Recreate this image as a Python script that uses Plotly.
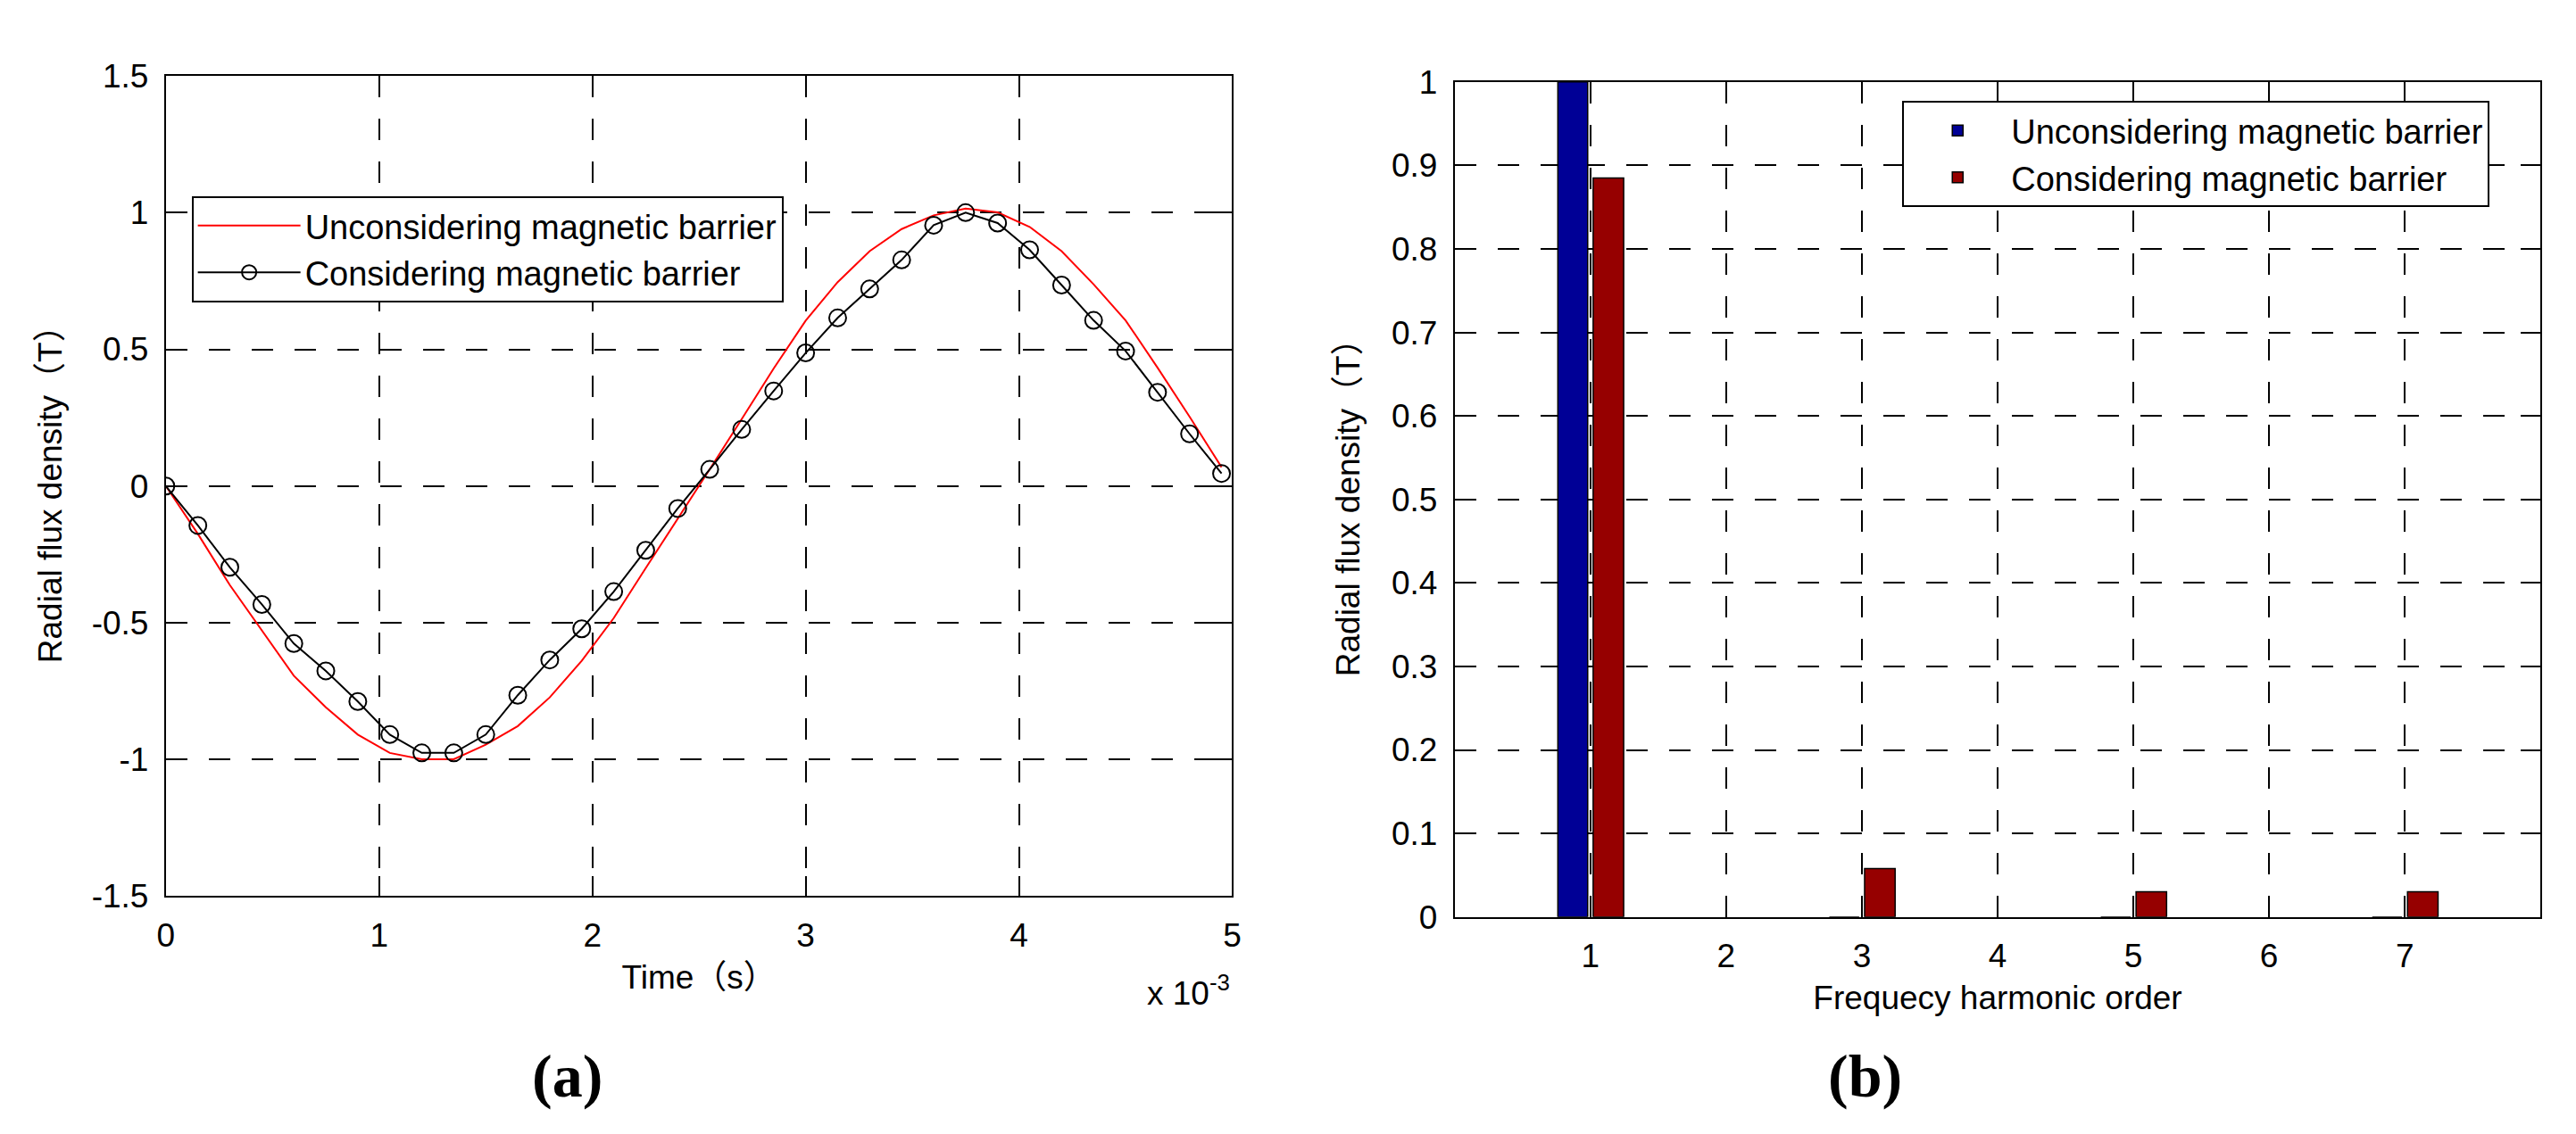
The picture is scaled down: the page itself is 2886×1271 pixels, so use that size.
import plotly.graph_objects as go

# (a) radial flux density over one period, time in units of 1e-3 s
time_ms = [0.00, 0.15, 0.30, 0.45, 0.60, 0.75, 0.90, 1.05, 1.20, 1.35, 1.50, 1.65,
           1.80, 1.95, 2.10, 2.25, 2.40, 2.55, 2.70, 2.85, 3.00, 3.15, 3.30, 3.45,
           3.60, 3.75, 3.90, 4.05, 4.20, 4.35, 4.50, 4.65, 4.80, 4.95]
b_unconsidering = [0.000, -0.175, -0.362, -0.530, -0.694, -0.809, -0.909, -0.976, -0.999,
                   -0.999, -0.946, -0.878, -0.773, -0.639, -0.483, -0.300, -0.120, 0.061,
                   0.245, 0.430, 0.605, 0.746, 0.859, 0.940, 0.990, 1.015, 1.001, 0.948,
                   0.859, 0.738, 0.606, 0.433, 0.254, 0.069]
b_considering = [0.000, -0.144, -0.297, -0.433, -0.576, -0.676, -0.788, -0.909, -0.976,
                 -0.976, -0.909, -0.765, -0.636, -0.522, -0.386, -0.235, -0.082, 0.061,
                 0.207, 0.348, 0.487, 0.615, 0.721, 0.827, 0.954, 1.000, 0.962, 0.864,
                 0.735, 0.606, 0.494, 0.343, 0.191, 0.046]

# (b) harmonic spectrum
harmonic_order = [1, 3, 5, 7]
amp_unconsidering = [1.0, 0.0, 0.0, 0.0]
amp_considering = [0.885, 0.058, 0.030, 0.030]

# ticks
xticks_a = [0, 1, 2, 3, 4, 5]
yticks_a = [-1.5, -1, -0.5, 0, 0.5, 1, 1.5]
yticktext_a = ["-1.5", "-1", "-0.5", "0", "0.5", "1", "1.5"]
xticks_b = [1, 2, 3, 4, 5, 6, 7]
yticks_b = [0, 0.1, 0.2, 0.3, 0.4, 0.5, 0.6, 0.7, 0.8, 0.9, 1]
yticktext_b = ["0", "0.1", "0.2", "0.3", "0.4", "0.5", "0.6", "0.7", "0.8", "0.9", "1"]

W, H = 2886, 1271
FONT = "Liberation Sans, Arial, Noto Sans CJK SC, sans-serif"
FS = 37

def fx(p): return p / W
def fy(p): return 1 - p / H

axis_style = dict(
    showline=True, linecolor="black", linewidth=2, mirror="ticks",
    ticks="inside", ticklen=22, tickwidth=1.5, tickcolor="black",
    showgrid=True, gridcolor="black", gridwidth=1.5, griddash="24px,24px",
    zeroline=False, tickfont=dict(family=FONT, size=FS, color="black"),
    ticklabelstandoff=10,
)

fig = go.Figure()

fig.add_trace(go.Scatter(
    x=time_ms, y=b_unconsidering, mode="lines", name="Unconsidering magnetic barrier",
    line=dict(color="#ff0000", width=2), xaxis="x", yaxis="y", legend="legend"))
fig.add_trace(go.Scatter(
    x=time_ms, y=b_considering, mode="lines+markers", name="Considering magnetic barrier",
    line=dict(color="black", width=2),
    marker=dict(symbol="circle-open", size=19, color="black", line=dict(width=2)),
    xaxis="x", yaxis="y", legend="legend"))

fig.add_trace(go.Bar(
    x=harmonic_order, y=amp_unconsidering, name="Unconsidering magnetic barrier",
    marker=dict(color="#000096", line=dict(color="black", width=1.5)),
    offset=-0.24, width=0.22, xaxis="x2", yaxis="y2", legend="legend2"))
fig.add_trace(go.Bar(
    x=harmonic_order, y=amp_considering, name="Considering magnetic barrier",
    marker=dict(color="#960000", line=dict(color="black", width=1.5)),
    offset=0.02, width=0.225, xaxis="x2", yaxis="y2", legend="legend2"))

legend_style = dict(
    bgcolor="white", bordercolor="black", borderwidth=2,
    font=dict(family=FONT, size=38, color="black"),
    xanchor="left", yanchor="top", tracegroupgap=0,
)

fig.update_layout(
    width=W, height=H, margin=dict(l=0, r=0, t=0, b=0),
    paper_bgcolor="white", plot_bgcolor="white",
    font=dict(family=FONT, size=FS, color="black"),
    barmode="overlay",
    xaxis=dict(axis_style, domain=[fx(169), fx(1372)], range=[0, 5],
               tickvals=xticks_a, anchor="y",
               title=dict(text="Time（s）", standoff=14, font=dict(size=FS))),
    yaxis=dict(axis_style, domain=[fy(1009), fy(59)], range=[-1.5, 1.5],
               tickvals=yticks_a, ticktext=yticktext_a, anchor="x",
               title=dict(text="Radial flux density（T）", standoff=22, font=dict(size=FS))),
    xaxis2=dict(axis_style, domain=[fx(1623), fx(2848)], range=[0, 8],
                tickvals=xticks_b, anchor="y2",
                title=dict(text="Frequecy harmonic order", standoff=14, font=dict(size=FS))),
    yaxis2=dict(axis_style, domain=[fy(1033), fy(66)], range=[0, 1],
                tickvals=yticks_b, ticktext=yticktext_b, anchor="x2",
                title=dict(text="Radial flux density（T）", standoff=24, font=dict(size=FS))),
    legend=dict(legend_style, x=fx(198), y=fy(198), itemwidth=115),
    legend2=dict(legend_style, x=fx(2128), y=fy(88), itemwidth=110),
    showlegend=True,
)

fig.add_annotation(text="x 10<sup>-3</sup>", xref="paper", yref="paper",
                   x=fx(1372), y=fy(1145), xanchor="right", yanchor="bottom",
                   showarrow=False, font=dict(family=FONT, size=FS, color="black"))
fig.add_annotation(text="<b>(a)</b>", xref="paper", yref="paper",
                   x=fx(622), y=fy(1217), xanchor="center", yanchor="middle",
                   showarrow=False, font=dict(family="Liberation Serif, serif", size=68, color="black"))
fig.add_annotation(text="<b>(b)</b>", xref="paper", yref="paper",
                   x=fx(2086), y=fy(1217), xanchor="center", yanchor="middle",
                   showarrow=False, font=dict(family="Liberation Serif, serif", size=68, color="black"))

fig.write_html("out.html")
